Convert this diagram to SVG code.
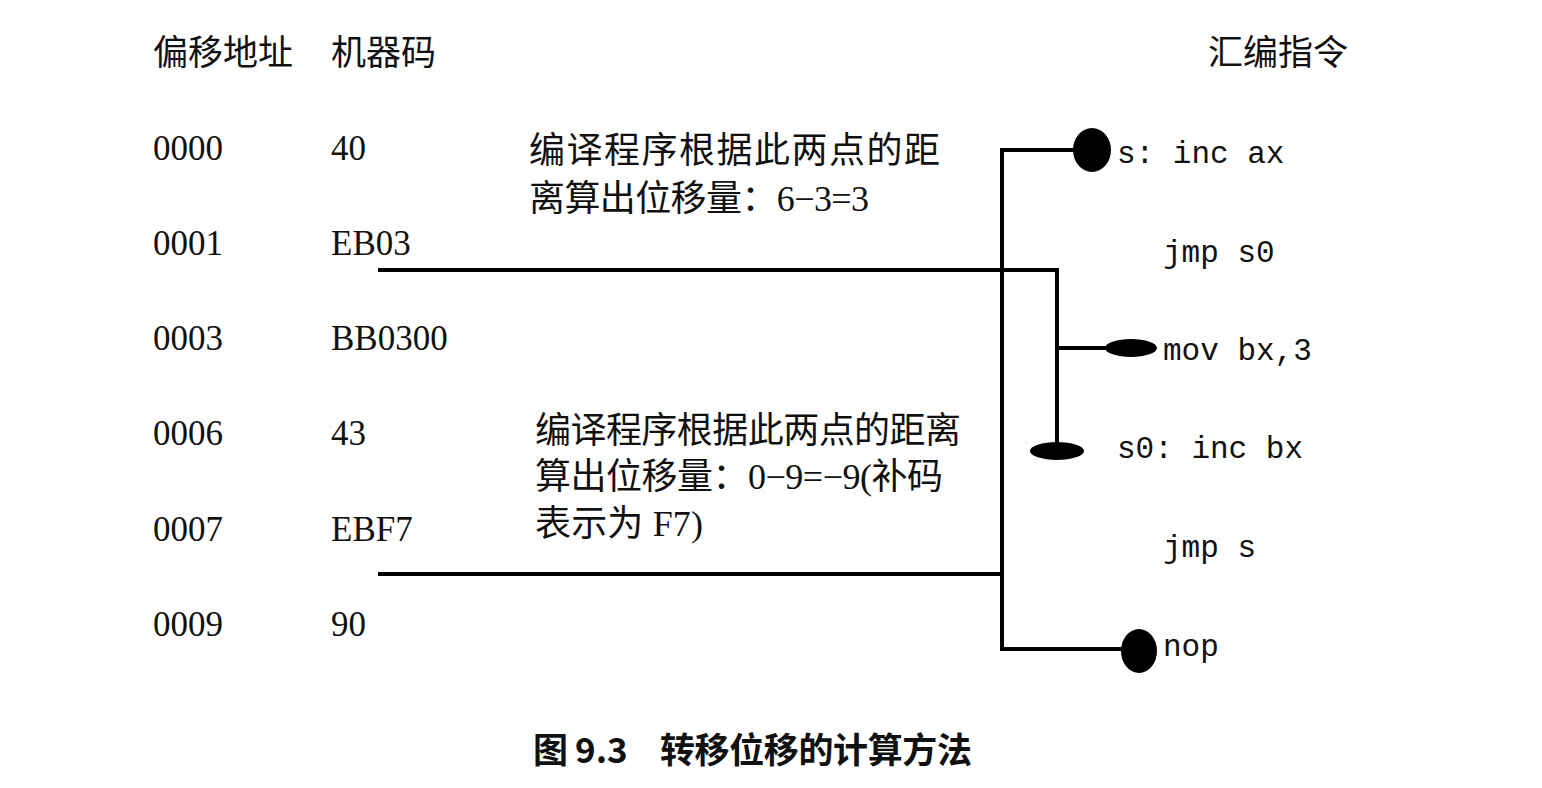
<svg xmlns="http://www.w3.org/2000/svg" width="1542" height="788" viewBox="0 0 1542 788">
<style>
.hd{font-family:"Noto Sans CJK SC","Noto Sans",sans-serif;font-size:35px;fill:#111}
.num{font-family:"Liberation Serif","Noto Sans CJK SC",serif;font-size:35px;fill:#111}
.note{font-family:"Liberation Serif","Noto Sans CJK SC",serif;font-size:36px;fill:#111}
.code{font-family:"Liberation Mono",monospace;font-size:31px;fill:#111}
.cap{font-family:"Noto Sans CJK SC","Noto Sans",sans-serif;font-size:35px;font-weight:600;fill:#111}
.ln{fill:none;stroke:#000;stroke-width:4}
.dot{fill:#000}
</style>
<defs>
<pattern id="dots" width="8" height="8" patternUnits="userSpaceOnUse">
<rect x="2" y="2" width="1" height="1" fill="#ececec"/>
</pattern>
</defs>
<rect width="1542" height="788" fill="#fff"/>
<rect x="150" y="20" width="1225" height="670" fill="url(#dots)"/>
<g id="headers">
<text class="hd" x="153" y="65">偏移地址</text>
<text class="hd" x="331" y="65">机器码</text>
<text class="hd" x="1208" y="65">汇编指令</text>
</g>
<g id="addresses">
<text class="num" x="153" y="160">0000</text>
<text class="num" x="153" y="255">0001</text>
<text class="num" x="153" y="350">0003</text>
<text class="num" x="153" y="445">0006</text>
<text class="num" x="153" y="541">0007</text>
<text class="num" x="153" y="636">0009</text>
</g>
<g id="machinecode">
<text class="num" x="331" y="160">40</text>
<text class="num" x="331" y="255">EB03</text>
<text class="num" x="331" y="350">BB0300</text>
<text class="num" x="331" y="445">43</text>
<text class="num" x="331" y="541">EBF7</text>
<text class="num" x="331" y="636">90</text>
</g>
<g id="note1">
<text class="note" x="529" y="163" textLength="411" lengthAdjust="spacing">编译程序根据此两点的距</text>
<text class="note" x="529" y="211" textLength="340" lengthAdjust="spacing">离算出位移量：6−3=3</text>
</g>
<g id="note2">
<text class="note" x="535" y="443" textLength="426" lengthAdjust="spacing">编译程序根据此两点的距离</text>
<text class="note" x="535" y="489" textLength="408" lengthAdjust="spacing">算出位移量：0−9=−9(补码</text>
<text class="note" x="535" y="536" textLength="168" lengthAdjust="spacing">表示为 F7)</text>
</g>
<g id="asm">
<text class="code" x="1117" y="163">s: inc ax</text>
<text class="code" x="1163" y="262">jmp s0</text>
<text class="code" x="1163" y="360">mov bx,3</text>
<text class="code" x="1117" y="458">s0: inc bx</text>
<text class="code" x="1163" y="557">jmp s</text>
<text class="code" x="1163" y="656">nop</text>
</g>
<g id="connectors">
<polyline class="ln" points="378,270 1057,270 1057,450"/>
<line class="ln" x1="1057" y1="348" x2="1115" y2="348"/>
<polyline class="ln" points="1092,150 1002,150 1002,649 1139,649"/>
<line class="ln" x1="378" y1="574" x2="1002" y2="574"/>
<ellipse class="dot" cx="1092" cy="150" rx="19" ry="22"/>
<ellipse class="dot" cx="1131" cy="348" rx="26" ry="9"/>
<ellipse class="dot" cx="1057" cy="451" rx="27" ry="9"/>
<ellipse class="dot" cx="1139" cy="651" rx="18" ry="22"/>
</g>
<g id="caption">
<text class="cap" x="533" y="763">图</text>
<text class="cap" x="575" y="763">9.3</text>
<text class="cap" x="660" y="763" textLength="312" lengthAdjust="spacing">转移位移的计算方法</text>
</g>
</svg>
